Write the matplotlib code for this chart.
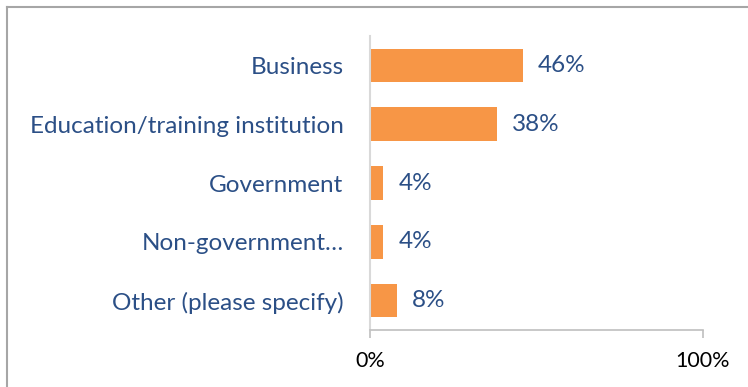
import matplotlib
matplotlib.use('Agg')
import matplotlib.pyplot as plt
from matplotlib.lines import Line2D
from matplotlib.ticker import FuncFormatter

categories = ['Business', 'Education/training institution', 'Government',
              'Non-government…', 'Other (please specify)']
values = [46, 38, 4, 4, 8]
value_labels = ['46%', '38%', '4%', '4%', '8%']

plt.rcParams['font.family'] = ['Lato', 'DejaVu Sans']

fig = plt.figure(figsize=(7.48, 3.87), dpi=100)
ax = fig.add_axes([370 / 748, 1 - 330 / 387, 333 / 748, 294 / 387])

blue = '#2b4f86'
orange = '#f79646'

y = list(range(len(categories)))
ax.barh(y, values, height=0.57, color=orange)
ax.set_xlim(0, 100)
ax.set_ylim(len(categories) - 0.5, -0.5)

for yi, v, lab in zip(y, values, value_labels):
    ax.annotate(lab, (v, yi), xytext=(15, 0), textcoords='offset pixels',
                va='center', ha='left', fontsize=17.5, color=blue)

ax.set_yticks(y)
ax.set_yticklabels(categories, fontsize=17.5, color=blue)
ax.tick_params(axis='y', length=0, pad=19)

ax.set_xticks([0, 100])
ax.xaxis.set_major_formatter(FuncFormatter(lambda v, p: f'{v:.0f}%'))
ax.tick_params(axis='x', length=6, width=1.2, color='#bfbfbf', labelsize=15.5,
               labelcolor='black', pad=9, direction='out')

for s in ['top', 'right']:
    ax.spines[s].set_visible(False)
ax.spines['bottom'].set_color('#bfbfbf')
ax.spines['bottom'].set_linewidth(1.2)
ax.spines['left'].set_color('#d9d9d9')
ax.spines['left'].set_linewidth(1.5)

# outer frame (left and top edges visible)
fig.add_artist(Line2D([6.5 / 748, 6.5 / 748], [0, 1 - 7 / 387], color='#a6a6a6', lw=1.5))
fig.add_artist(Line2D([6.5 / 748, 1], [1 - 7 / 387, 1 - 7 / 387], color='#a6a6a6', lw=1.5))

fig.savefig('out.png', dpi=100)
